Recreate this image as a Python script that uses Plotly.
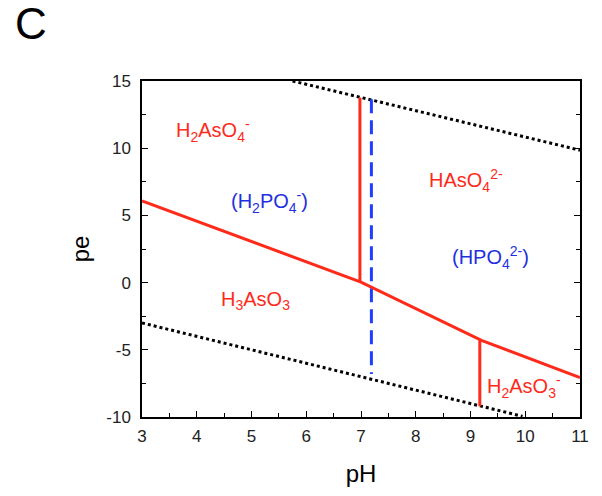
import plotly.graph_objects as go

# Boundary lines (pH, pe)
main_ph = [3.0, 7.0, 9.2, 11.0]
main_pe = [6.07, 0.04, -4.3, -7.07]

v1_ph = [6.98, 6.98]
v1_pe = [0.07, 13.76]

v2_ph = [9.17, 9.17]
v2_pe = [-4.3, -9.2]

blue_ph = [7.19, 7.19]
blue_pe = [13.65, -6.8]

upper_water_ph = [5.75, 11.0]
upper_water_pe = [15.0, 9.85]

lower_water_ph = [3.0, 9.95]
lower_water_pe = [-3.0, -9.95]

# Species labels
label_text = [
    "H<sub>2</sub>AsO<sub>4</sub><sup>-</sup>",
    "(H<sub>2</sub>PO<sub>4</sub><sup>-</sup>)",
    "HAsO<sub>4</sub><sup>2-</sup>",
    "(HPO<sub>4</sub><sup>2-</sup>)",
    "H<sub>3</sub>AsO<sub>3</sub>",
    "H<sub>2</sub>AsO<sub>3</sub><sup>-</sup>",
]
label_ph = [4.3, 5.33, 8.92, 9.36, 5.08, 9.98]
label_pe = [11.3, 6.0, 7.6, 1.9, -1.3, -7.7]
label_color = ["#ff2a1a", "#1f2fe0", "#ff2a1a", "#1f2fe0", "#ff2a1a", "#ff2a1a"]

# Tick labels
x_ticks = [3, 4, 5, 6, 7, 8, 9, 10, 11]
y_ticks = [-10, -5, 0, 5, 10, 15]
y_ticktext = ["-10", "-5", "0", "5", "10", "15"]

RED = "#ff2a1a"
BLUE = "#1f3fff"
FONT = "Liberation Sans, Arial"

fig = go.Figure()
fig.add_trace(go.Scatter(x=upper_water_ph, y=upper_water_pe, mode="lines",
                         line=dict(color="black", width=3, dash="dot"), hoverinfo="skip"))
fig.add_trace(go.Scatter(x=lower_water_ph, y=lower_water_pe, mode="lines",
                         line=dict(color="black", width=3, dash="dot"), hoverinfo="skip"))
fig.add_trace(go.Scatter(x=blue_ph, y=blue_pe, mode="lines",
                         line=dict(color=BLUE, width=3, dash="14px,7px"), hoverinfo="skip"))
fig.add_trace(go.Scatter(x=main_ph, y=main_pe, mode="lines",
                         line=dict(color=RED, width=3), hoverinfo="skip"))
fig.add_trace(go.Scatter(x=v1_ph, y=v1_pe, mode="lines",
                         line=dict(color=RED, width=3), hoverinfo="skip"))
fig.add_trace(go.Scatter(x=v2_ph, y=v2_pe, mode="lines",
                         line=dict(color=RED, width=3), hoverinfo="skip"))

for t, x, y, c in zip(label_text, label_ph, label_pe, label_color):
    fig.add_annotation(x=x, y=y, text=t, showarrow=False,
                       font=dict(family=FONT, size=20, color=c))

fig.add_annotation(xref="paper", yref="paper", x=-0.295, y=1.25, text="C", showarrow=False,
                   xanchor="left", yanchor="top",
                   font=dict(family=FONT, size=44, color="black"))

axis_common = dict(showgrid=False, zeroline=False, showline=True, linecolor="black",
                   linewidth=1.5, ticks="inside", tickcolor="black", ticklen=6,
                   tickfont=dict(family=FONT, size=17, color="#222"))

fig.update_xaxes(range=[3, 11], tickvals=x_ticks, mirror=True,
                 minor=dict(ticks="inside", tickvals=[3.5, 4.5, 5.5, 6.5, 7.5, 8.5, 9.5, 10.5],
                            ticklen=4, tickcolor="black"),
                 ticklabelstandoff=3,
                 title=dict(text="pH", font=dict(family=FONT, size=24, color="black"),
                            standoff=20),
                 **axis_common)
fig.update_yaxes(range=[-10, 15], tickvals=y_ticks, ticktext=y_ticktext, mirror="ticks",
                 minor=dict(ticks="inside", tickvals=[-7.5, -2.5, 2.5, 7.5, 12.5],
                            ticklen=4, tickcolor="black"),
                 ticklabelstandoff=6,
                 title=dict(text="pe", font=dict(family=FONT, size=24, color="black"),
                            standoff=10),
                 **axis_common)

fig.update_layout(width=602, height=496, showlegend=False,
                  plot_bgcolor="white", paper_bgcolor="white",
                  margin=dict(l=142, r=22, t=81, b=79))

fig.write_html("out.html")
